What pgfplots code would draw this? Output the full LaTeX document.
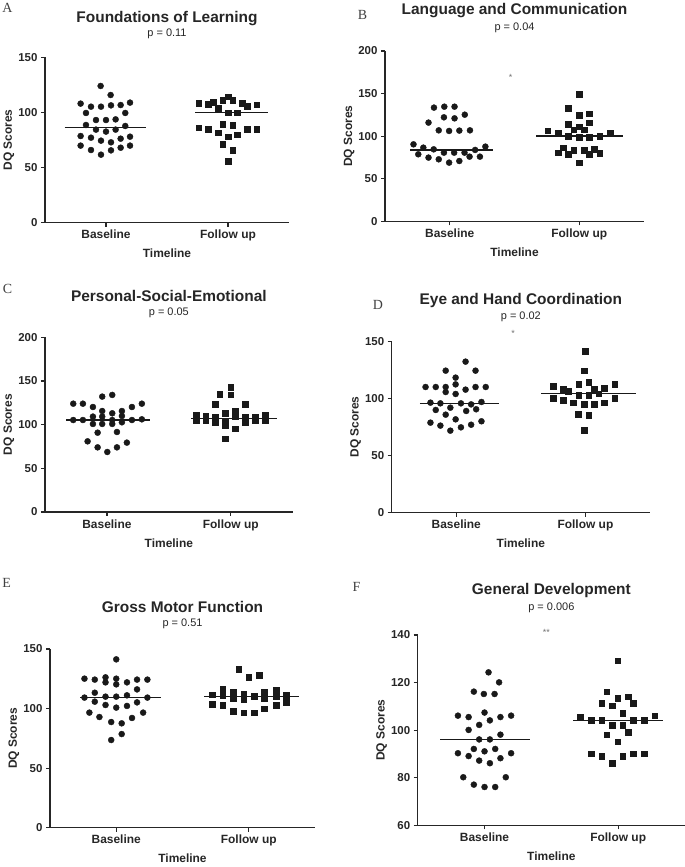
\documentclass[border=0pt]{standalone}
\usepackage{fontspec}
\setmainfont{Liberation Sans}
\newfontfamily\letterfont{Liberation Serif}
\usepackage{pgfplots}
\pgfplotsset{compat=1.18}
\pgfplotsset{
  dq/.style={
    scale only axis, clip=false,
    axis x line=bottom, axis y line=left,
    axis line style={line width=1.2bp, black!85, -},
    xmin=-0.5, xmax=1.5,
    xtick={0,1}, xticklabels={Baseline,Follow up},
    tick align=outside, major tick length=4bp,
    tick style={line width=1.2bp, black!85},
    /pgf/number format/assume math mode=true,
    yticklabel style={font=\fontsize{11.5}{13}\selectfont\bfseries, text=black!85},
    xticklabel style={font=\fontsize{12}{14}\selectfont\bfseries, text=black!85},
    xlabel={Timeline}, ylabel={DQ Scores},
    label style={font=\fontsize{12}{14}\selectfont\bfseries, text=black!85},
    xlabel style={at={([yshift=-31bp]axis description cs:0.5,0)}, anchor=center},
    ylabel style={at={([xshift=-36bp]axis description cs:0,0.5)}, anchor=center},
  },
  base/.style={only marks, mark=*, mark size=3bp, black!90},
  fol/.style={only marks, mark=square*, mark size=2.8bp, black!90},
  med/.style={no marks, line width=1.2bp, black!90},
}
\newcommand{\ptitle}[4]{%
  \node[font=\fontsize{15.5}{17}\selectfont\bfseries, text=black!85] at ([yshift=#3bp]axis description cs:0.5,1) {#1};
  \node[font=\fontsize{11}{13}\selectfont, text=black!85] at ([yshift=#4bp]axis description cs:0.5,1) {#2};
}
\begin{document}
\begin{tikzpicture}
% ---------- A ----------
\begin{axis}[dq, at={(45bp,644.3bp)}, anchor=south west, width=244bp, height=165.4bp,
  ymin=0, ymax=150, ytick={0,50,100,150}]
\addplot[base] coordinates {(-0.044,124.0) (0.038,115.8) (-0.208,108.0) (0.197,108.9) (-0.123,105.2) (-0.041,105.2) (0.041,106.4) (0.120,106.7) (-0.164,99.5) (0.158,99.5) (-0.082,93.1) (0.000,93.1) (0.079,93.7) (-0.164,88.6) (0.158,87.7) (-0.082,84.4) (0.000,82.6) (0.079,84.4) (-0.208,78.6) (-0.123,77.1) (-0.041,74.4) (0.041,72.9) (0.120,76.2) (0.197,78.0) (-0.208,69.9) (-0.123,65.9) (-0.041,61.7) (0.041,65.6) (0.120,68.0) (0.197,69.9)};
\addplot[fol] coordinates {(1.000,114.3) (0.760,108.3) (0.836,107.3) (0.877,109.5) (0.956,111.3) (1.038,111.3) (1.115,108.3) (1.158,105.8) (1.235,107.0) (0.918,103.7) (1.000,99.8) (1.077,99.8) (0.760,86.2) (0.836,85.0) (0.918,81.6) (0.956,89.5) (1.038,88.6) (1.000,78.0) (1.077,79.8) (1.158,85.0) (1.235,85.0) (0.956,71.1) (1.038,65.6) (1.000,55.6)};
\addplot[med] coordinates {(-0.34,86.5) (0.33,86.5)};
\addplot[med] coordinates {(0.73,99.8) (1.33,99.8)};
\ptitle{Foundations of Learning}{p = 0.11}{38.3}{23.3}
\end{axis}
% ---------- B ----------
\begin{axis}[dq, at={(385bp,645.7bp)}, anchor=south west, width=259bp, height=170.3bp,
  ymin=0, ymax=200, ytick={0,50,100,150,200}]
\addplot[base] coordinates {(-0.122,133.5) (-0.042,134.6) (0.037,134.6) (0.116,125.2) (-0.045,122.1) (0.037,120.9) (-0.164,115.9) (-0.085,106.8) (-0.005,106.1) (0.074,106.5) (0.156,106.8) (-0.280,90.4) (-0.204,86.5) (-0.124,84.5) (-0.045,80.6) (0.034,80.6) (0.114,80.6) (0.196,83.8) (0.275,87.7) (-0.243,78.7) (-0.164,74.8) (-0.085,72.8) (-0.005,68.9) (0.074,70.8) (0.153,75.9) (0.233,75.9)};
\addplot[fol] coordinates {(1.000,149.5) (0.915,132.7) (1.000,124.9) (1.079,126.4) (1.079,115.9) (0.915,114.3) (1.000,111.2) (1.037,107.6) (0.958,107.6) (0.757,106.5) (0.836,103.3) (0.915,100.2) (1.000,98.6) (1.079,98.6) (1.159,100.2) (1.238,103.3) (0.876,86.5) (0.958,83.8) (1.037,83.8) (1.116,84.5) (0.836,80.6) (0.915,79.1) (1.079,79.1) (1.159,79.8) (1.000,68.9)};
\addplot[med] coordinates {(-0.304,83.8) (0.331,83.8)};
\addplot[med] coordinates {(0.669,100.2) (1.336,100.2)};
\node[font=\fontsize{9}{10}\selectfont, text=black!55] at (axis cs:0.47,169) {*};
\ptitle{Language and Communication}{p = 0.04}{40}{23}
\end{axis}
% ---------- C ----------
\begin{axis}[dq, at={(45bp,355bp)}, anchor=south west, width=247.7bp, height=174.7bp,
  ymin=0, ymax=200, ytick={0,50,100,150,200}]
\addplot[base] coordinates {(0.043,134.0) (-0.038,132.1) (-0.272,124.0) (-0.194,124.0) (-0.113,120.2) (0.202,120.2) (0.282,124.0) (-0.038,115.6) (0.121,115.6) (0.043,113.0) (-0.038,109.2) (0.121,109.9) (-0.113,109.2) (-0.272,105.3) (-0.194,105.3) (0.043,105.3) (0.202,105.3) (0.282,106.1) (-0.113,100.8) (-0.038,100.8) (0.121,102.7) (0.043,100.8) (-0.075,90.8) (0.081,91.6) (-0.156,80.9) (0.161,79.4) (-0.075,74.0) (0.081,74.0) (0.003,68.7)};
\addplot[fol] coordinates {(1.000,143.1) (0.911,135.1) (1.000,134.4) (0.876,123.7) (1.118,123.7) (1.038,116.0) (0.720,111.5) (0.796,109.9) (0.876,109.2) (0.957,113.0) (1.038,109.9) (1.118,108.4) (1.199,109.2) (1.280,111.5) (0.720,105.3) (0.796,105.3) (0.876,103.1) (0.957,103.8) (1.118,102.3) (1.199,104.6) (1.280,105.3) (0.957,99.2) (1.038,95.4) (0.957,84.0)};
\addplot[med] coordinates {(-0.328,105.3) (0.344,105.3)};
\addplot[med] coordinates {(0.68,107.3) (1.371,107.3)};
\ptitle{Personal-Social-Emotional}{p = 0.05}{41.3}{24.3}
\end{axis}
% ---------- D ----------
\begin{axis}[dq, at={(391.7bp,354.3bp)}, anchor=south west, width=258.3bp, height=171.4bp,
  ymin=0, ymax=150, ytick={0,50,100,150}]
\addplot[base] coordinates {(0.072,132.2) (-0.082,124.3) (0.149,124.3) (-0.005,118.2) (-0.238,110.0) (-0.159,110.0) (-0.082,110.0) (-0.005,112.3) (0.072,107.7) (0.149,110.0) (0.228,110.0) (-0.082,105.6) (-0.005,103.9) (-0.200,96.3) (-0.123,95.7) (-0.046,91.9) (0.036,95.7) (0.115,94.8) (0.195,96.9) (-0.159,89.9) (-0.082,85.8) (0.077,89.0) (0.154,90.5) (-0.200,78.8) (-0.123,76.2) (-0.005,81.7) (-0.046,71.8) (0.036,74.7) (0.115,77.0) (0.195,80.0)};
\addplot[fol] coordinates {(1.000,141.2) (0.990,124.3) (0.749,110.9) (0.826,108.3) (0.949,112.3) (1.026,114.1) (1.067,108.3) (1.144,109.1) (1.226,112.3) (0.867,106.5) (0.949,103.0) (1.103,104.2) (1.026,103.0) (0.749,100.4) (0.826,98.3) (0.903,96.3) (0.990,95.1) (1.067,95.1) (1.144,96.3) (1.226,100.4) (0.944,86.4) (1.026,85.5) (0.990,72.1)};
\addplot[med] coordinates {(-0.282,95.7) (0.333,95.7)};
\addplot[med] coordinates {(0.659,104.2) (1.39,104.2)};
\node[font=\fontsize{9}{10}\selectfont, text=black!55] at (axis cs:0.44,157) {*};
\ptitle{Eye and Hand Coordination}{p = 0.02}{40.6}{24.3}
\end{axis}
% ---------- E ----------
\begin{axis}[dq, at={(50bp,39.3bp)}, anchor=south west, width=265bp, height=178.7bp,
  ymin=0, ymax=150, ytick={0,50,100,150}]
\addplot[base] coordinates {(0.000,141.3) (-0.240,125.1) (-0.162,124.3) (-0.081,126.2) (0.000,125.1) (-0.081,122.0) (0.000,120.3) (0.081,122.0) (0.157,124.3) (0.235,124.3) (-0.162,113.3) (-0.240,109.2) (-0.162,105.8) (-0.081,110.0) (0.000,110.0) (0.081,111.1) (0.157,116.1) (0.235,109.2) (-0.081,103.0) (0.000,100.8) (0.081,102.2) (0.157,105.2) (-0.203,96.6) (-0.127,92.9) (-0.038,88.7) (0.041,87.6) (0.119,92.1) (0.203,96.6) (0.041,78.6) (-0.038,73.6)};
\addplot[fol] coordinates {(0.724,111.7) (0.724,103.6) (0.802,116.4) (0.802,110.8) (0.802,103.0) (0.883,114.2) (0.883,108.6) (0.883,97.7) (0.924,133.2) (0.962,112.2) (0.962,107.5) (0.962,96.6) (1.000,126.2) (1.040,110.6) (1.040,96.6) (1.078,127.9) (1.118,113.9) (1.118,108.6) (1.118,99.9) (1.205,115.9) (1.205,110.6) (1.205,103.0) (1.284,111.1) (1.284,105.5)};
\addplot[med] coordinates {(-0.273,109.4) (0.339,109.4)};
\addplot[med] coordinates {(0.663,110.0) (1.38,110.0)};
\ptitle{Gross Motor Function}{p = 0.51}{42}{25}
\end{axis}
% ---------- F ----------
\begin{axis}[dq, at={(417.7bp,41.7bp)}, anchor=south west, width=267.3bp, height=190.3bp,
  ymin=60, ymax=140, ytick={60,80,100,120,140}]
\addplot[base] coordinates {(0.030,124.3) (0.109,120.1) (-0.080,116.2) (-0.005,115.2) (0.075,115.2) (-0.199,106.1) (-0.119,105.5) (0.000,107.4) (0.119,105.5) (0.199,106.1) (-0.040,102.2) (0.040,104.1) (-0.119,100.1) (-0.040,96.1) (0.040,96.1) (0.119,98.1) (-0.080,92.1) (0.000,91.1) (0.080,92.1) (-0.199,90.3) (-0.119,89.1) (0.199,90.3) (-0.040,87.2) (0.040,86.1) (0.119,88.2) (-0.159,80.2) (0.159,80.2) (-0.080,77.1) (0.000,76.1) (0.080,76.1)};
\addplot[fol] coordinates {(0.995,129.2) (0.915,116.2) (0.876,111.3) (0.995,113.4) (1.075,114.1) (0.955,110.2) (1.114,111.3) (1.035,107.1) (0.716,105.4) (0.796,104.1) (0.876,104.1) (0.955,102.2) (1.035,102.2) (1.114,104.1) (1.194,104.1) (1.274,106.1) (0.915,98.1) (1.075,99.1) (0.995,95.2) (0.796,90.1) (0.876,89.1) (0.955,86.1) (1.035,89.1) (1.114,90.1) (1.194,90.1)};
\addplot[med] coordinates {(-0.333,96.1) (0.338,96.1)};
\addplot[med] coordinates {(0.662,104.1) (1.333,104.1)};
\node[font=\fontsize{9}{10}\selectfont, text=black!55] at (axis cs:0.463,141) {**};
\ptitle{General Development}{p = 0.006}{44.3}{27}
\end{axis}
% panel letters
\begin{scope}[every node/.style={font=\letterfont\fontsize{14}{16}\selectfont, text=black!75}]
\node at (7.5bp,858.7bp) {A};
\node at (362.5bp,852.5bp) {B};
\node at (7.5bp,578bp) {C};
\node at (378bp,562bp) {D};
\node at (6.7bp,284bp) {E};
\node at (356.5bp,280.3bp) {F};
\end{scope}
\pgfresetboundingbox
\useasboundingbox (0,0) rectangle (685bp,867bp);
\end{tikzpicture}
\end{document}
